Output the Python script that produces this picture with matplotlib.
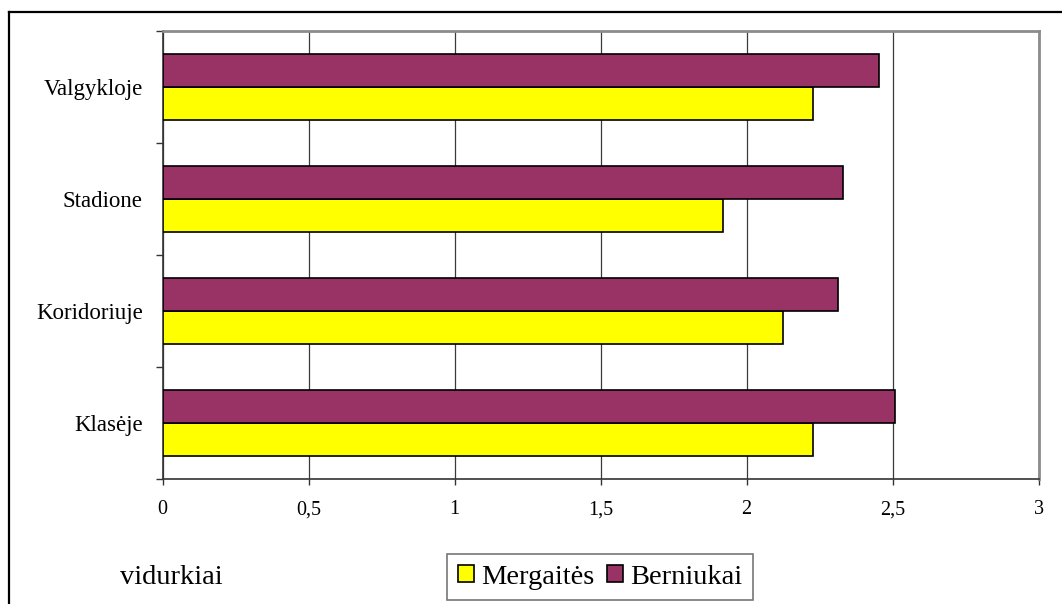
import matplotlib
matplotlib.use("Agg")
import matplotlib.pyplot as plt
from matplotlib.patches import Patch
from matplotlib.lines import Line2D
import numpy as np

categories = ["Klasėje", "Koridoriuje", "Stadione", "Valgykloje"]
mergaites = [2.227, 2.124, 1.918, 2.227]
berniukai = [2.510, 2.312, 2.331, 2.452]
xticks = [0, 0.5, 1, 1.5, 2, 2.5, 3]
xticklabels = ["0", "0,5", "1", "1,5", "2", "2,5", "3"]
series_names = ["Mergaitės", "Berniukai"]
colors = ["#FFFF00", "#993366"]

plt.rcParams['font.family'] = ['Liberation Serif', 'DejaVu Serif']

fig = plt.figure(figsize=(10.62, 6.04), dpi=100)
ax = fig.add_axes([0.1532, 0.2065, 0.9779 - 0.1532, 0.9495 - 0.2065])

y = np.arange(len(categories))
h = 0.294
ax.barh(y - h / 2, mergaites, height=h, color=colors[0], edgecolor="black", linewidth=1.2, zorder=3)
ax.barh(y + h / 2, berniukai, height=h, color=colors[1], edgecolor="black", linewidth=1.2, zorder=3)

ax.set_xlim(0, 3)
ax.set_ylim(-0.5, len(categories) - 0.5)

ax.set_xticks(xticks)
ax.set_xticklabels(xticklabels, fontsize=14.5)
ax.tick_params(axis="x", direction="out", length=4, width=1, color="#333333", pad=11)

ax.set_yticks(np.arange(-0.5, len(categories), 1.0))
ax.set_yticklabels([])
ax.tick_params(axis="y", which="major", direction="out", length=5, width=1, color="#333333")
ax.set_yticks(y, minor=True)
ax.set_yticklabels(categories, minor=True, fontsize=16.5)
ax.tick_params(axis="y", which="minor", length=0, pad=14.5)

ax.grid(axis="x", color="#3a3a3a", linewidth=0.9, zorder=0)
ax.set_axisbelow(True)

for s in ["left", "bottom"]:
    ax.spines[s].set_color("#333333")
    ax.spines[s].set_linewidth(1.2)
for s in ["top", "right"]:
    ax.spines[s].set_color("#8c8c8c")
    ax.spines[s].set_linewidth(2)

# outer chart frame (left and top visible)
fig.add_artist(Line2D([9 / 1062, 9 / 1062], [0, 1 - 11.5 / 604], transform=fig.transFigure, color="black", linewidth=1.6))
fig.add_artist(Line2D([9 / 1062, 1], [1 - 11.5 / 604, 1 - 11.5 / 604], transform=fig.transFigure, color="black", linewidth=1.6))

handles = [Patch(facecolor=colors[0], edgecolor="black", linewidth=1.2),
           Patch(facecolor=colors[1], edgecolor="black", linewidth=1.2)]
leg = fig.legend(handles, series_names, loc="center", bbox_to_anchor=(600 / 1062, 1 - 577 / 604),
                 ncol=2, fontsize=20.5, frameon=True, fancybox=False, shadow=False,
                 handlelength=0.55, handleheight=0.55, handletextpad=0.25, columnspacing=0.45,
                 borderpad=0.38, borderaxespad=0)
leg.get_frame().set_edgecolor("#555555")
leg.get_frame().set_linewidth(1.2)

fig.text(120 / 1062, 1 - 578 / 604, "vidurkiai", fontsize=20.5, ha="left", va="center")

fig.savefig("out.png", dpi=100)
